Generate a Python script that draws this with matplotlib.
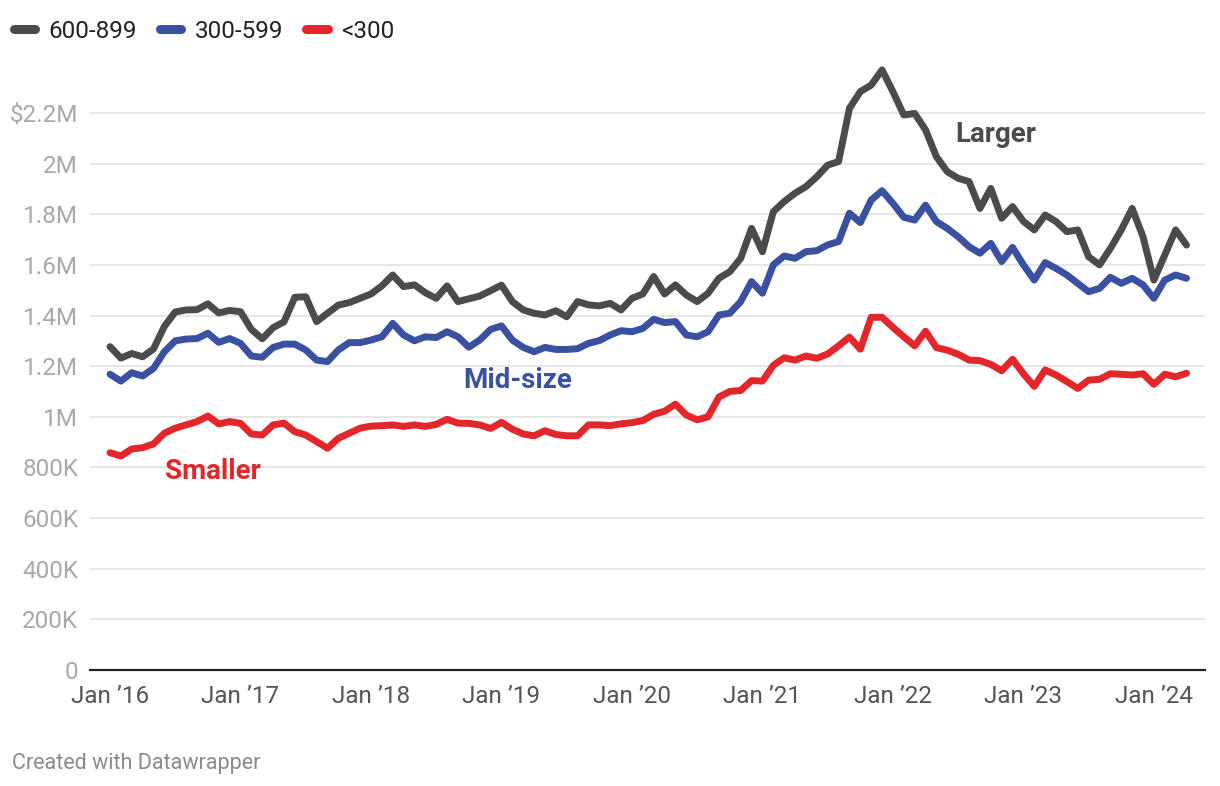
import matplotlib
matplotlib.use("Agg")
import matplotlib.pyplot as plt
import numpy as np

# Monthly median values (millions of $), Jan 2016 .. Apr 2024
larger = [1.277, 1.232, 1.250, 1.237, 1.268, 1.357, 1.414, 1.422, 1.423, 1.446,
          1.410, 1.420, 1.415, 1.345, 1.308, 1.352, 1.375, 1.472, 1.474, 1.376,
          1.409, 1.441, 1.451, 1.468, 1.485, 1.517, 1.560, 1.514, 1.521, 1.490,
          1.468, 1.517, 1.455, 1.466, 1.477, 1.498, 1.520, 1.455, 1.422, 1.409,
          1.402, 1.419, 1.395, 1.455, 1.442, 1.438, 1.448, 1.422, 1.468, 1.485,
          1.554, 1.485, 1.521, 1.481, 1.455, 1.488, 1.547, 1.573, 1.626, 1.744,
          1.652, 1.810, 1.850, 1.883, 1.909, 1.948, 1.994, 2.008, 2.218, 2.284,
          2.310, 2.370, 2.284, 2.192, 2.198, 2.133, 2.027, 1.968, 1.942, 1.929,
          1.823, 1.902, 1.784, 1.830, 1.772, 1.738, 1.797, 1.771, 1.731, 1.738,
          1.632, 1.600, 1.665, 1.738, 1.823, 1.711, 1.540, 1.639, 1.738, 1.678]
midsize = [1.168, 1.141, 1.174, 1.161, 1.191, 1.257, 1.300, 1.307, 1.309, 1.330,
           1.294, 1.309, 1.290, 1.240, 1.235, 1.274, 1.287, 1.287, 1.264, 1.224,
           1.218, 1.264, 1.293, 1.293, 1.303, 1.316, 1.369, 1.323, 1.300, 1.316,
           1.313, 1.336, 1.316, 1.275, 1.303, 1.345, 1.359, 1.303, 1.274, 1.257,
           1.274, 1.266, 1.266, 1.269, 1.290, 1.301, 1.323, 1.340, 1.336, 1.349,
           1.385, 1.372, 1.376, 1.323, 1.316, 1.336, 1.402, 1.409, 1.455, 1.534,
           1.488, 1.600, 1.635, 1.626, 1.652, 1.656, 1.679, 1.692, 1.804, 1.767,
           1.856, 1.893, 1.843, 1.788, 1.777, 1.836, 1.771, 1.744, 1.711, 1.672,
           1.646, 1.685, 1.613, 1.669, 1.600, 1.540, 1.609, 1.586, 1.560, 1.527,
           1.494, 1.507, 1.551, 1.527, 1.547, 1.521, 1.468, 1.540, 1.560, 1.547]
smaller = [0.858, 0.845, 0.873, 0.878, 0.893, 0.935, 0.955, 0.968, 0.981, 1.003,
           0.972, 0.981, 0.974, 0.932, 0.928, 0.968, 0.975, 0.941, 0.928, 0.902,
           0.876, 0.915, 0.935, 0.955, 0.963, 0.965, 0.968, 0.962, 0.968, 0.962,
           0.970, 0.990, 0.975, 0.974, 0.968, 0.954, 0.978, 0.951, 0.932, 0.925,
           0.945, 0.930, 0.925, 0.925, 0.968, 0.968, 0.965, 0.972, 0.977, 0.985,
           1.010, 1.022, 1.050, 1.007, 0.988, 1.000, 1.078, 1.100, 1.104, 1.143,
           1.141, 1.203, 1.233, 1.224, 1.240, 1.231, 1.248, 1.280, 1.315, 1.267,
           1.393, 1.393, 1.353, 1.316, 1.280, 1.338, 1.273, 1.263, 1.247, 1.224,
           1.222, 1.207, 1.182, 1.227, 1.170, 1.120, 1.185, 1.165, 1.139, 1.112,
           1.145, 1.148, 1.170, 1.168, 1.165, 1.170, 1.128, 1.168, 1.158, 1.172]

series_names = ["600-899", "300-599", "<300"]
series_labels = ["Larger", "Mid-size", "Smaller"]
x_tick_labels = ["Jan \u201916", "Jan \u201917", "Jan \u201918", "Jan \u201919", "Jan \u201920",
                 "Jan \u201921", "Jan \u201922", "Jan \u201923", "Jan \u201924"]
y_ticks = [0, 0.2, 0.4, 0.6, 0.8, 1.0, 1.2, 1.4, 1.6, 1.8, 2.0, 2.2]
y_tick_labels = ["0", "200K", "400K", "600K", "800K", "1M", "1.2M", "1.4M",
                 "1.6M", "1.8M", "2M", "$2.2M"]

colors = ["#4a4b4a", "#3a50a0", "#e3262a"]

plt.rcParams['font.family'] = ['Roboto', 'DejaVu Sans']

W, H = 1220, 786
fig = plt.figure(figsize=(W / 100, H / 100), dpi=100)
ax = fig.add_axes([90 / W, (H - 670) / H, 1115 / W, (670 - 62.3) / H])

months = np.arange(len(larger))
for vals, c, name in zip([larger, midsize, smaller], colors, series_names):
    ax.plot(months, vals, color=c, lw=5.0, solid_joinstyle='round',
            solid_capstyle='round', label=name, zorder=3)

ax.set_xlim(-1.84, 100.7)
ax.set_ylim(0, 2.4)
ax.set_yticks(y_ticks)
ax.set_yticklabels(y_tick_labels)
ax.set_xticks(np.arange(0, 97, 12))
ax.set_xticklabels(x_tick_labels)

ax.grid(axis='y', color='#e2e2e2', lw=1.2, zorder=0)
ax.grid(axis='x', visible=False)
for s in ['top', 'right', 'left']:
    ax.spines[s].set_visible(False)
ax.spines['bottom'].set_color('#222222')
ax.spines['bottom'].set_linewidth(1.6)
ax.tick_params(axis='y', length=0, pad=8.5, labelsize=17.5, labelcolor='#a8a8a8')
ax.tick_params(axis='x', length=0, pad=10.5, labelsize=17.5, labelcolor='#555555')
for lbl in ax.get_yticklabels():
    lbl.set_horizontalalignment('right')

# direct labels
ax.text(77.7, 2.113, series_labels[0], color=colors[0], fontsize=20,
        fontweight='bold', ha='left', va='center')
ax.text(32.5, 1.145, series_labels[1], color=colors[1], fontsize=20,
        fontweight='bold', ha='left', va='center')
ax.text(5.06, 0.782, series_labels[2], color=colors[2], fontsize=20,
        fontweight='bold', ha='left', va='center')

leg = fig.legend(loc='upper left', bbox_to_anchor=(13.5 / W, 1 - 20 / H), ncol=3,
                 frameon=False, fontsize=17.5, handlelength=0.9,
                 handletextpad=0.55, columnspacing=0.92, labelcolor='#222222',
                 borderpad=0, borderaxespad=0)
for h in leg.get_lines():
    h.set_linewidth(6.5)
    h.set_solid_capstyle('round')

fig.text(12 / W, 1 - 763 / H, "Created with Datawrapper", fontsize=15.5,
         color='#8a8a8a', ha='left', va='center')

fig.savefig("out.png", dpi=100)
